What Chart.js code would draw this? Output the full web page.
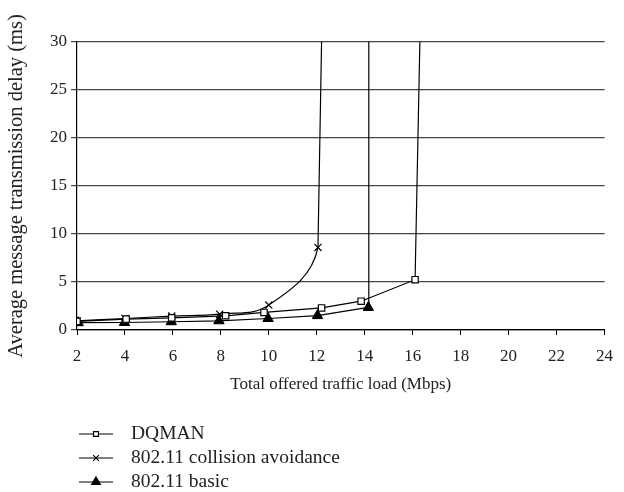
<!DOCTYPE html>
<html lang="en">
<head>
<meta charset="UTF-8">
<title>Delay vs load</title>
<script src="https://cdn.jsdelivr.net/npm/chart.js"></script>
<style>
  html, body { margin: 0; padding: 0; background: #fff; }
  #wrap { width: 624px; height: 492px; }
</style>
</head>
<body>
<div id="wrap"><canvas id="delayChart" width="624" height="492"></canvas></div>
<script>
// values
const dqmanX = [2, 4.05, 5.95, 8.2, 9.8, 12.2, 13.85, 16.1, 16.3];
const dqmanY = [0.9, 1.14, 1.27, 1.48, 1.83, 2.3, 3.0, 5.24, 30];
const collisionX = [2, 4, 5.95, 7.95, 10, 12.05, 12.2];
const collisionY = [0.95, 1.2, 1.45, 1.65, 2.6, 8.6, 30];
const basicX = [2.05, 3.98, 5.93, 7.92, 9.97, 12.03, 14.15, 14.17];
const basicY = [0.76, 0.78, 0.86, 0.96, 1.2, 1.5, 2.35, 30];
const seriesNames = ['DQMAN', '802.11 collision avoidance', '802.11 basic'];
const yTicks = [0, 5, 10, 15, 20, 25, 30];

const FONT = "'Liberation Serif', 'DejaVu Serif', serif";

function toPoints(xs, ys) {
    return xs.map((x, i) => ({ x: x, y: ys[i] }));
}

// hide the marker where a line runs off the top of the plot
function markerRadius(r) {
    return ctx => (ctx.raw && ctx.raw.y >= 30) ? 0 : r;
}

// keep the run-off segment (last marker -> top of plot) straight on the smoothed curve
const straightTail = {
    id: 'straightTail',
    beforeDatasetDraw(chart, args) {
        const ds = chart.data.datasets[args.index];
        if (!ds.straightTail) return;
        const meta = args.meta;
        meta.dataset.updateControlPoints(chart.chartArea, 'x');
        const pts = meta.data;
        const p = pts[pts.length - 2];
        p.cp2x = p.x;
        p.cp2y = p.y;
    }
};

const legendPlugin = {
    id: 'lineLegend',
    afterDraw(chart) {
        const c = chart.ctx;
        const rows = [434, 458, 482];
        c.save();
        chart.data.datasets.forEach((ds, i) => {
            const y = rows[i];
            c.strokeStyle = '#000';
            c.lineWidth = 1.2;
            c.beginPath();
            c.moveTo(79, y);
            c.lineTo(113, y);
            c.stroke();
            c.fillStyle = ds.pointBackgroundColor;
            c.strokeStyle = '#000';
            Chart.helpers.drawPoint(c, {
                pointStyle: ds.pointStyle,
                radius: ds.legendRadius,
                borderWidth: 1.2
            }, 96, y);
            c.fillStyle = '#222';
            c.font = '19.5px ' + FONT;
            c.textBaseline = 'middle';
            c.fillText(ds.label, 131, y);
        });
        c.restore();
    }
};

new Chart(document.getElementById('delayChart').getContext('2d'), {
    type: 'line',
    data: {
        datasets: [
            {
                label: seriesNames[0],
                data: toPoints(dqmanX, dqmanY),
                borderColor: '#000',
                borderWidth: 1.2,
                pointStyle: 'rect',
                pointRadius: markerRadius(4.5),
                pointBackgroundColor: '#fff',
                pointBorderColor: '#000',
                pointBorderWidth: 1.2,
                legendRadius: 3.5,
                tension: 0
            },
            {
                label: seriesNames[1],
                data: toPoints(collisionX, collisionY),
                borderColor: '#000',
                borderWidth: 1.2,
                pointStyle: 'crossRot',
                pointRadius: markerRadius(5),
                pointBackgroundColor: '#fff',
                pointBorderColor: '#000',
                pointBorderWidth: 1.2,
                legendRadius: 4,
                tension: 0.4,
                straightTail: true
            },
            {
                label: seriesNames[2],
                data: toPoints(basicX, basicY),
                borderColor: '#000',
                borderWidth: 1.2,
                pointStyle: 'triangle',
                pointRadius: markerRadius(6),
                pointBackgroundColor: '#000',
                pointBorderColor: '#000',
                pointBorderWidth: 1,
                legendRadius: 5,
                tension: 0
            }
        ]
    },
    options: {
        responsive: false,
        animation: false,
        layout: { padding: { left: 0, top: 42, right: 17, bottom: 97 } },
        plugins: {
            legend: { display: false },
            tooltip: { enabled: false }
        },
        scales: {
            x: {
                type: 'linear',
                min: 2,
                max: 24,
                afterFit: s => { s.height = 65; },
                ticks: { stepSize: 2, color: '#222', font: { family: FONT, size: 17 }, padding: 11 },
                grid: { drawOnChartArea: false, drawTicks: true, tickLength: 5, color: '#000' },
                border: { color: '#000', width: 1.2 },
                title: {
                    display: true,
                    text: 'Total offered traffic load (Mbps)',
                    color: '#222',
                    font: { family: FONT, size: 17 },
                    padding: { top: 2, bottom: 0 }
                }
            },
            y: {
                min: 0,
                max: 30,
                afterFit: s => { s.width = 77; },
                afterBuildTicks: s => { s.ticks = yTicks.map(v => ({ value: v })); },
                ticks: { color: '#222', font: { family: FONT, size: 17 }, padding: 4 },
                grid: { color: '#444', lineWidth: 1.2, tickLength: 6 },
                border: { color: '#000', width: 1.2 },
                title: {
                    display: true,
                    text: 'Average message transmission delay (ms)',
                    color: '#222',
                    font: { family: FONT, size: 20.5 },
                    padding: { bottom: 2 }
                }
            }
        }
    },
    plugins: [straightTail, legendPlugin]
});
</script>
</body>
</html>
